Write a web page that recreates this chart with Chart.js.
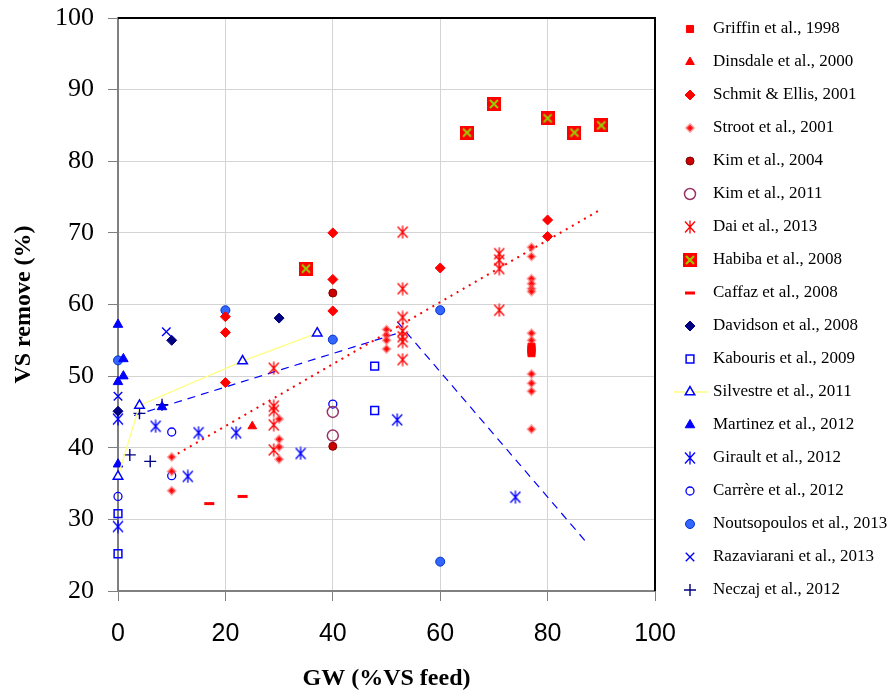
<!DOCTYPE html>
<html>
<head>
<meta charset="utf-8">
<script src="https://cdn.jsdelivr.net/npm/chart.js@4.4.1/dist/chart.umd.min.js"></script>
<style>
  html, body { margin: 0; padding: 0; background: #fff; }
</style>
</head>
<body>
<canvas id="myChart" width="894" height="697"></canvas>
<script>
// axis ranges / ticks
const xTickValues = [0, 20, 40, 60, 80, 100];
const yTickValues = [20, 30, 40, 50, 60, 70, 80, 90, 100];

// series values (GW %VS feed, VS removal %)
const griffinX = [77, 77, 77, 77];
const griffinY = [54.1, 53.8, 53.5, 53.2];
const dinsdaleX = [25];
const dinsdaleY = [43];
const schmitX = [20, 20, 20, 40, 40, 40, 60, 80, 80];
const schmitY = [58.3, 56.1, 49.1, 70, 63.5, 59.1, 65.1, 71.8, 69.5];
const strootX = [10, 10, 10, 30, 30, 30, 30, 50, 50, 50, 50, 77, 77, 77, 77, 77, 77, 77, 77, 77, 77, 77, 77];
const strootY = [38.7, 36.7, 34.0, 44.0, 41.2, 40.1, 38.4, 56.5, 55.7, 55.0, 53.8, 68.0, 66.7, 63.6, 62.9, 62.2, 61.8, 56.0, 55.0, 50.3, 49.0, 47.9, 42.6];
const kim2004X = [40, 40];
const kim2004Y = [61.6, 40.2];
const kim2011X = [40, 40];
const kim2011Y = [45.0, 41.7];
const daiX = [29, 29, 29, 29, 29, 53, 53, 53, 53, 53, 53, 53, 71, 71, 71, 71];
const daiY = [51.1, 45.8, 45.2, 43.2, 39.7, 70.1, 62.2, 58.2, 56.3, 55.5, 54.8, 52.3, 67.1, 66.2, 65.0, 59.2];
const habibaX = [35, 65, 70, 80, 85, 90];
const habibaY = [65, 84, 88, 86, 84, 85];
const caffazX = [17, 23.2];
const caffazY = [32.2, 33.2];
const davidsonX = [0, 10, 30];
const davidsonY = [45.1, 55.0, 58.1];
const kabourisX = [0, 0, 47.8, 47.8];
const kabourisY = [30.8, 25.2, 51.4, 45.2];
const silvestreX = [0, 4, 23.2, 37.1];
const silvestreY = [36.0, 45.9, 52.1, 56.0];
const martinezX = [0, 1, 1, 0, 8.2, 0];
const martinezY = [57.2, 52.4, 50.0, 49.2, 45.7, 37.7];
const giraultX = [0, 7, 15, 22, 13, 0, 34, 52, 74];
const giraultY = [44.0, 43.0, 42.1, 42.1, 36.0, 29.0, 39.2, 43.9, 33.1];
const carrereX = [0, 10, 10, 40];
const carrereY = [33.2, 42.2, 36.1, 46.1];
const noutsoX = [0, 20, 40, 60, 60];
const noutsoY = [52.2, 59.2, 55.1, 59.2, 24.1];
const razaX = [0, 9];
const razaY = [47.2, 56.2];
const neczajX = [2.2, 4, 6, 8.2];
const neczajY = [39.0, 44.8, 38.1, 46.0];

// trend lines
const redTrendX = [10, 90];
const redTrendY = [38.7, 73.3];
const blueUpX = [3, 53];
const blueUpY = [44.5, 56.2];
const blueDownX = [52, 87];
const blueDownY = [57.6, 27.0];

function pts(xs, ys) {
    return xs.map((x, i) => ({ x: x, y: ys[i] }));
}

function makeAsterisk(color) {
    const c = document.createElement('canvas');
    c.width = 12; c.height = 14;
    const g = c.getContext('2d');
    g.strokeStyle = color;
    g.lineWidth = 1.3;
    g.beginPath();
    g.moveTo(6, 0.5); g.lineTo(6, 13.5);
    g.moveTo(1, 1.5); g.lineTo(11, 12.5);
    g.moveTo(11, 1.5); g.lineTo(1, 12.5);
    g.stroke();
    return c;
}

function makeHabiba() {
    const c = document.createElement('canvas');
    c.width = 14; c.height = 14;
    const g = c.getContext('2d');
    g.fillStyle = '#FF0000';
    g.fillRect(0, 0, 14, 14);
    g.strokeStyle = '#99CC00';
    g.lineWidth = 2;
    g.beginPath();
    g.moveTo(3, 3); g.lineTo(11, 11);
    g.moveTo(11, 3); g.lineTo(3, 11);
    g.stroke();
    return c;
}

function series(label, xs, ys, style) {
    return Object.assign({
        label: label,
        data: pts(xs, ys),
        showLine: false,
        clip: false,
        pointBorderWidth: 1
    }, style);
}

const RED = '#FF0000';
const BLUE = '#0000FF';
const NAVY = '#000080';

const datasets = [
    series('Griffin et al., 1998', griffinX, griffinY, { pointStyle: 'rect', pointRadius: 5, pointBackgroundColor: RED, pointBorderColor: RED }),
    series('Dinsdale et al., 2000', dinsdaleX, dinsdaleY, { pointStyle: 'triangle', pointRadius: 5, pointBackgroundColor: RED, pointBorderColor: RED }),
    series('Schmit & Ellis, 2001', schmitX, schmitY, { pointStyle: 'rectRot', pointRadius: 5, pointBackgroundColor: RED, pointBorderColor: RED }),
    series('Stroot et al., 2001', strootX, strootY, { pointStyle: 'rectRot', pointRadius: 3.5, pointBackgroundColor: RED, pointBorderColor: 'rgba(255,90,90,0.5)', pointBorderWidth: 2.5 }),
    series('Kim et al., 2004', kim2004X, kim2004Y, { pointStyle: 'circle', pointRadius: 4, pointBackgroundColor: '#CC0000', pointBorderColor: '#800000' }),
    series('Kim et al., 2011', kim2011X, kim2011Y, { pointStyle: 'circle', pointRadius: 5.5, pointBackgroundColor: 'rgba(0,0,0,0)', pointBorderColor: '#993366', pointBorderWidth: 1.5 }),
    series('Dai et al., 2013', daiX, daiY, { pointStyle: makeAsterisk(RED), pointRadius: 6, pointBackgroundColor: RED, pointBorderColor: RED }),
    series('Habiba et al., 2008', habibaX, habibaY, { pointStyle: makeHabiba(), pointRadius: 7, pointBackgroundColor: RED, pointBorderColor: RED }),
    series('Caffaz et al., 2008', caffazX, caffazY, { pointStyle: 'line', pointRadius: 5, pointBackgroundColor: RED, pointBorderColor: RED, pointBorderWidth: 3 }),
    series('Davidson et al., 2008', davidsonX, davidsonY, { pointStyle: 'rectRot', pointRadius: 5, pointBackgroundColor: NAVY, pointBorderColor: NAVY }),
    series('Kabouris et al., 2009', kabourisX, kabourisY, { pointStyle: 'rect', pointRadius: 5.5, pointBackgroundColor: 'rgba(0,0,0,0)', pointBorderColor: BLUE, pointBorderWidth: 1.5 }),
    series('Silvestre et al., 2011', silvestreX, silvestreY, { showLine: true, legendLine: true, borderColor: '#FFFF80', borderWidth: 1.3, pointStyle: 'triangle', pointRadius: 5.5, pointBackgroundColor: '#FFFFFF', pointBorderColor: BLUE, pointBorderWidth: 1.5 }),
    series('Martinez et al., 2012', martinezX, martinezY, { pointStyle: 'triangle', pointRadius: 5.5, pointBackgroundColor: BLUE, pointBorderColor: BLUE }),
    series('Girault et al., 2012', giraultX, giraultY, { pointStyle: makeAsterisk(BLUE), pointRadius: 6, pointBackgroundColor: BLUE, pointBorderColor: BLUE }),
    series('Carrère et al., 2012', carrereX, carrereY, { pointStyle: 'circle', pointRadius: 4, pointBackgroundColor: 'rgba(0,0,0,0)', pointBorderColor: BLUE, pointBorderWidth: 1.3 }),
    series('Noutsopoulos et al., 2013', noutsoX, noutsoY, { pointStyle: 'circle', pointRadius: 4.5, pointBackgroundColor: '#3366FF', pointBorderColor: '#0033CC' }),
    series('Razaviarani et al., 2013', razaX, razaY, { pointStyle: 'crossRot', pointRadius: 6, pointBackgroundColor: BLUE, pointBorderColor: BLUE, pointBorderWidth: 1.4 }),
    series('Neczaj et al., 2012', neczajX, neczajY, { pointStyle: 'cross', pointRadius: 6, pointBackgroundColor: NAVY, pointBorderColor: NAVY, pointBorderWidth: 1.4 }),
    // trend lines (not in legend)
    { label: '', data: pts(redTrendX, redTrendY), showLine: true, pointRadius: 0, borderColor: RED, borderWidth: 2, borderDash: [2, 5] },
    { label: '', data: pts(blueUpX, blueUpY), showLine: true, pointRadius: 0, borderColor: BLUE, borderWidth: 1.2, borderDash: [8, 6] },
    { label: '', data: pts(blueDownX, blueDownY), showLine: true, pointRadius: 0, borderColor: BLUE, borderWidth: 1.2, borderDash: [8, 6] }
];

// black frame on top and right of the plot
const frame = {
    id: 'frame',
    beforeDatasetsDraw(chart) {
        const { ctx, chartArea: a } = chart;
        ctx.save();
        ctx.strokeStyle = '#000';
        ctx.lineWidth = 2;
        ctx.beginPath();
        ctx.moveTo(a.left, a.top);
        ctx.lineTo(a.right, a.top);
        ctx.lineTo(a.right, a.bottom);
        ctx.stroke();
        ctx.restore();
    }
};

// legend column at the right
const sideLegend = {
    id: 'sideLegend',
    afterDraw(chart) {
        const ctx = chart.ctx;
        const x = chart.chartArea.right + 35;
        let row = 0;
        ctx.save();
        chart.data.datasets.forEach(ds => {
            if (!ds.label) return;
            const y = chart.chartArea.top + 11 + row * 33;
            if (ds.legendLine) {
                ctx.strokeStyle = ds.borderColor;
                ctx.lineWidth = 1.3;
                ctx.beginPath();
                ctx.moveTo(x - 16, y);
                ctx.lineTo(x + 18, y);
                ctx.stroke();
            }
            ctx.fillStyle = ds.pointBackgroundColor;
            ctx.strokeStyle = ds.pointBorderColor;
            ctx.lineWidth = ds.pointBorderWidth;
            Chart.helpers.drawPoint(ctx, {
                pointStyle: ds.pointStyle,
                radius: ds.pointRadius,
                borderWidth: ds.pointBorderWidth,
                rotation: 0
            }, x, y);
            ctx.fillStyle = '#000';
            ctx.font = '17px "Liberation Serif"';
            ctx.textAlign = 'left';
            ctx.textBaseline = 'middle';
            ctx.fillText(ds.label, x + 23, y);
            row++;
        });
        ctx.restore();
    }
};

const ctx = document.getElementById('myChart').getContext('2d');
new Chart(ctx, {
    type: 'scatter',
    data: { datasets: datasets },
    plugins: [frame, sideLegend],
    options: {
        responsive: false,
        animation: false,
        layout: { padding: { left: 0, right: 239, top: 18, bottom: 0 } },
        plugins: {
            legend: { display: false },
            tooltip: { enabled: false }
        },
        scales: {
            x: {
                type: 'linear',
                min: xTickValues[0],
                max: xTickValues[xTickValues.length - 1],
                afterBuildTicks: s => { s.ticks = xTickValues.map(v => ({ value: v })); },
                afterFit: s => { s.height = 106; s.paddingLeft = 0; s.paddingRight = 0; },
                grid: { color: '#D4D4D4', tickColor: '#808080', tickLength: 10 },
                border: { color: '#808080', width: 2 },
                ticks: { color: '#000', padding: 18, font: { family: 'Liberation Sans', size: 25 } },
                title: {
                    display: true,
                    text: 'GW (%VS feed)',
                    color: '#000',
                    padding: { top: 0, bottom: 4 },
                    font: { family: 'Liberation Serif', size: 24, weight: 'bold' }
                }
            },
            y: {
                type: 'linear',
                min: yTickValues[0],
                max: yTickValues[yTickValues.length - 1],
                afterBuildTicks: s => { s.ticks = yTickValues.map(v => ({ value: v })); },
                afterFit: s => { s.width = 118; s.paddingTop = 0; s.paddingBottom = 0; },
                grid: { color: '#D4D4D4', tickColor: '#808080', tickLength: 10 },
                border: { color: '#808080', width: 2 },
                ticks: { color: '#000', padding: 14, font: { family: 'Liberation Serif', size: 26 } },
                title: {
                    display: true,
                    text: 'VS remove (%)',
                    color: '#000',
                    padding: { top: 9, bottom: 0 },
                    font: { family: 'Liberation Serif', size: 24, weight: 'bold' }
                }
            }
        }
    }
});
</script>
</body>
</html>
